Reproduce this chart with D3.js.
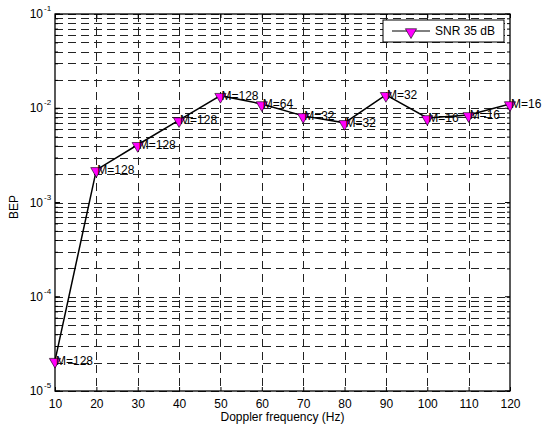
<!DOCTYPE html>
<html>
<head>
<meta charset="utf-8">
<script src="https://cdn.jsdelivr.net/npm/d3@7"></script>
<style>
  body { margin: 0; background: #fff; }
  text { font-family: "Liberation Sans", Arial, sans-serif; }
</style>
</head>
<body>
<div id="chart"></div>
<script>
// data
var freqs = [10, 20, 30, 40, 50, 60, 70, 80, 90, 100, 110, 120];
var bep = [2.1e-5, 2.22e-3, 4.1e-3, 7.5e-3, 1.36e-2, 1.11e-2, 8.3e-3, 7.0e-3, 1.39e-2, 7.9e-3, 8.5e-3, 1.11e-2];
var mLabels = ["M=128", "M=128", "M=128", "M=128", "M=128", "M=64", "M=32", "M=32", "M=32", "M=16", "M=16", "M=16"];
var xTicks = [10, 20, 30, 40, 50, 60, 70, 80, 90, 100, 110, 120];
var yDecades = [-5, -4, -3, -2, -1];
var seriesName = "SNR 35 dB";

var W = 542, H = 426;
// plot box edges
var pLeft = 55, pRight = 510, pTop = 14, pBottom = 391;

var svg = d3.select('#chart').append('svg')
  .attr('width', W).attr('height', H);

var x = d3.scaleLinear().domain([10, 120]).range([pLeft, pRight]);
var y = d3.scaleLog().domain([1e-5, 1e-1]).range([pBottom, pTop]);

// minor log values for grid
var minors = [];
for (var e = -5; e < -1; e++) {
  for (var k = 1; k <= 9; k++) minors.push(k * Math.pow(10, e));
}
minors.push(1e-1);

var grid = svg.append('g').attr('stroke', '#222').attr('stroke-width', 1)
  .attr('stroke-dasharray', '8,5').attr('fill', 'none');
grid.selectAll('line.h').data(minors).enter().append('line')
  .attr('x1', pLeft).attr('x2', pRight)
  .attr('y1', function (d) { return Math.round(y(d)) + 0.5; })
  .attr('y2', function (d) { return Math.round(y(d)) + 0.5; });
grid.selectAll('line.v').data(xTicks.slice(1, -1)).enter().append('line')
  .attr('y1', pTop).attr('y2', pBottom)
  .attr('x1', function (d) { return Math.round(x(d)) + 0.5; })
  .attr('x2', function (d) { return Math.round(x(d)) + 0.5; });

// axes with inner ticks
var axB = d3.axisBottom(x).tickValues(xTicks).tickSize(-4).tickPadding(8).tickFormat(d3.format('d'));
var axT = d3.axisTop(x).tickValues(xTicks).tickSize(-4).tickFormat('');
var axL = d3.axisLeft(y).tickValues(minors).tickSize(-3).tickFormat('');
var axR = d3.axisRight(y).tickValues(minors).tickSize(-3).tickFormat('');

function styleAxis(g) {
  g.select('.domain').remove();
  g.selectAll('line').attr('stroke', '#000');
  g.selectAll('text').attr('font-size', 12).attr('fill', '#000');
}
svg.append('g').attr('transform', 'translate(0,' + pBottom + ')').call(axB).call(styleAxis);
svg.append('g').attr('transform', 'translate(0,' + pTop + ')').call(axT).call(styleAxis);
svg.append('g').attr('transform', 'translate(' + pLeft + ',0)').call(axL).call(styleAxis);
svg.append('g').attr('transform', 'translate(' + pRight + ',0)').call(axR).call(styleAxis);

// major y ticks slightly longer
svg.selectAll('line.major').data(yDecades).enter().append('line')
  .attr('x1', pLeft).attr('x2', pLeft + 5)
  .attr('y1', function (d) { return y(Math.pow(10, d)); })
  .attr('y2', function (d) { return y(Math.pow(10, d)); })
  .attr('stroke', '#000');
svg.selectAll('line.majorR').data(yDecades).enter().append('line')
  .attr('x1', pRight).attr('x2', pRight - 5)
  .attr('y1', function (d) { return y(Math.pow(10, d)); })
  .attr('y2', function (d) { return y(Math.pow(10, d)); })
  .attr('stroke', '#000');

// y tick labels 10^e
svg.selectAll('text.ylab').data(yDecades).enter().append('text')
  .attr('x', 43).attr('y', function (d) { return y(Math.pow(10, d)) + 4; })
  .attr('text-anchor', 'end').attr('font-size', 12).attr('fill', '#000')
  .text('10');
svg.selectAll('text.yexp').data(yDecades).enter().append('text')
  .attr('x', 44).attr('y', function (d) { return y(Math.pow(10, d)) - 3; })
  .attr('font-size', 8).attr('fill', '#000')
  .text(function (d) { return '-' + Math.abs(d); });

// frame
svg.append('rect').attr('x', pLeft).attr('y', pTop)
  .attr('width', pRight - pLeft).attr('height', pBottom - pTop)
  .attr('fill', 'none').attr('stroke', '#000').attr('stroke-width', 1.3);

// axis titles
svg.append('text').attr('x', (pLeft + pRight) / 2).attr('y', 421)
  .attr('text-anchor', 'middle').attr('font-size', 12).text('Doppler frequency (Hz)');
svg.append('text').attr('transform', 'translate(18,207) rotate(-90)')
  .attr('text-anchor', 'middle').attr('font-size', 12).text('BEP');

// series line
var pts = freqs.map(function (f, i) { return { f: f, v: bep[i], m: mLabels[i] }; });
var line = d3.line().x(function (d) { return x(d.f); }).y(function (d) { return y(d.v); });
svg.append('path').datum(pts).attr('d', line)
  .attr('fill', 'none').attr('stroke', '#000').attr('stroke-width', 1.5);

var tri = d3.symbol().type(d3.symbolTriangle).size(55);
svg.selectAll('path.mk').data(pts).enter().append('path')
  .attr('d', tri)
  .attr('transform', function (d) { return 'translate(' + x(d.f) + ',' + (y(d.v) + 1) + ') rotate(180)'; })
  .attr('fill', '#ff00ff').attr('stroke', '#000').attr('stroke-width', 0.6);

svg.selectAll('text.m').data(pts).enter().append('text')
  .attr('x', function (d) { return x(d.f) + 1; })
  .attr('y', function (d) { return y(d.v) + 4; })
  .attr('font-size', 12).attr('fill', '#000')
  .text(function (d) { return d.m; });

// legend
var lg = svg.append('g');
lg.append('rect').attr('x', 383).attr('y', 20).attr('width', 121).attr('height', 22)
  .attr('fill', '#fff').attr('stroke', '#000').attr('stroke-width', 1);
lg.append('line').attr('x1', 392).attr('x2', 430).attr('y1', 31).attr('y2', 31)
  .attr('stroke', '#000').attr('stroke-width', 1);
lg.append('path').attr('d', tri)
  .attr('transform', 'translate(411,32) rotate(180)')
  .attr('fill', '#ff00ff').attr('stroke', '#000').attr('stroke-width', 0.6);
lg.append('text').attr('x', 435).attr('y', 35).attr('font-size', 12).text(seriesName);
</script>
</body>
</html>
